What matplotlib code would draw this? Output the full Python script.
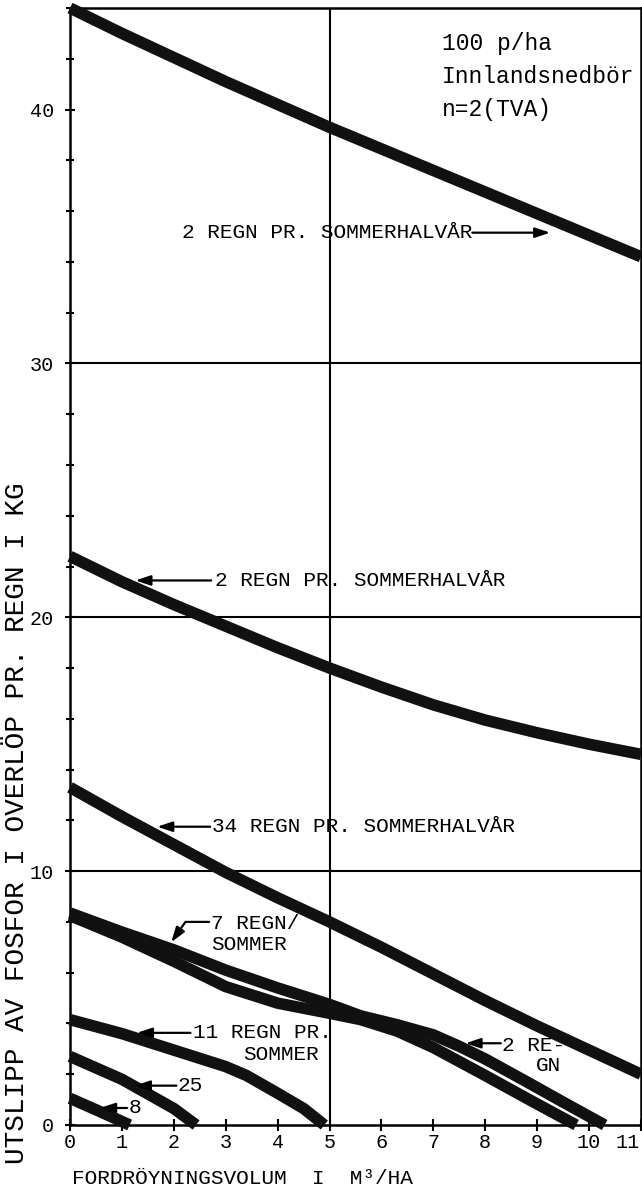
import matplotlib
matplotlib.use("Agg")
import matplotlib.pyplot as plt
from matplotlib.ticker import MultipleLocator

FONT = ["Liberation Mono", "DejaVu Sans Mono"]
plt.rcParams['font.family'] = FONT

# ---- data ----
x_top = [0, 1, 2, 3, 4, 5, 6, 7, 8, 9, 10, 11]
y_top = [44.0, 43.0, 42.05, 41.1, 40.2, 39.3, 38.45, 37.6, 36.75, 35.9, 35.05, 34.2]

x_mid = [0, 1, 2, 3, 4, 5, 6, 7, 8, 9, 10, 11]
y_mid = [22.4, 21.4, 20.5, 19.65, 18.8, 18.0, 17.25, 16.55, 15.95, 15.45, 15.0, 14.6]

x_34 = [0, 1, 2, 3, 4, 5, 6, 7, 8, 9, 10, 11]
y_34 = [13.3, 12.15, 11.05, 9.95, 8.95, 8.0, 7.0, 5.95, 4.9, 3.9, 2.95, 2.0]

x_7a = [0, 1, 2, 3, 4, 5, 5.6, 6.3, 7, 7.5, 8, 8.8, 9.5, 10.3]
y_7a = [8.35, 7.6, 6.9, 6.1, 5.4, 4.75, 4.3, 3.95, 3.55, 3.1, 2.6, 1.7, 0.9, 0.0]

x_7b = [0, 1, 2, 3, 4, 5, 5.6, 6.3, 7, 7.5, 8, 8.8, 9.75]
y_7b = [8.25, 7.4, 6.45, 5.45, 4.8, 4.4, 4.15, 3.7, 3.05, 2.5, 1.95, 1.05, 0.0]

x_11 = [0, 1, 2, 3, 3.4, 4, 4.5, 4.9]
y_11 = [4.15, 3.6, 2.95, 2.3, 1.95, 1.25, 0.65, 0.0]

x_25 = [0, 1, 2, 2.43]
y_25 = [2.7, 1.8, 0.65, 0.0]

x_8 = [0, 0.5, 1.15]
y_8 = [1.05, 0.6, 0.0]

x_ticks = list(range(0, 12))
x_ticklabels = [str(v) for v in x_ticks[:-1]] + [""]
last_xlabel = str(x_ticks[-1])
y_ticks = [0, 10, 20, 30, 40]
y_ticklabels = [str(v) for v in y_ticks]

fig = plt.figure(figsize=(6.42, 11.93), dpi=100)
ax = fig.add_axes([70/642, 1-1125/1193, 571/642, (1125-8)/1193])
ax.set_xlim(0, 11)
ax.set_ylim(0, 44)

INK = '#111111'
LW = 8.3
for xs, ys in [(x_top, y_top), (x_mid, y_mid), (x_34, y_34), (x_7a, y_7a),
               (x_7b, y_7b), (x_11, y_11), (x_25, y_25), (x_8, y_8)]:
    ax.plot(xs, ys, color=INK, lw=LW, solid_capstyle='butt',
            solid_joinstyle='round', clip_on=False, zorder=3)

# grid lines
for yv in [10, 20, 30]:
    ax.axhline(yv, color='black', lw=1.5, zorder=1)
ax.axvline(5, color='black', lw=1.5, zorder=1)

for s in ax.spines.values():
    s.set_linewidth(1.8)
    s.set_color('black')

ax.set_xticks(x_ticks)
ax.set_xticklabels(x_ticklabels)
ax.set_yticks(y_ticks)
ax.set_yticklabels(y_ticklabels)
ax.yaxis.set_minor_locator(MultipleLocator(2))
ax.tick_params(axis='both', which='both', direction='inout', width=1.5, color='black')
ax.tick_params(axis='y', which='major', length=7, pad=8, labelsize=14.5)
ax.tick_params(axis='y', which='minor', length=6)
ax.tick_params(axis='x', which='major', length=8, pad=2, labelsize=14.5)
ax.annotate(last_xlabel, xy=(11, 0), xycoords='data', xytext=(-1, -5.5),
            textcoords='offset points', ha='right', va='top', fontsize=14.5,
            annotation_clip=False)

# annotations
TXT = dict(fontsize=15.2, color='black', va='center', ha='left', zorder=4)
AP = dict(arrowstyle='-|>,head_length=0.9,head_width=0.3', color='black', lw=1.6,
          shrinkA=0, shrinkB=0)

def arrow(tip, tail):
    ax.annotate('', xy=tip, xytext=tail, arrowprops=AP, zorder=4)

ax.text(2.15, 35.15, "2 REGN PR. SOMMERHALVÅR", **TXT)
arrow((9.25, 35.15), (7.75, 35.15))

ax.text(2.8, 21.45, "2 REGN PR. SOMMERHALVÅR", **TXT)
arrow((1.26, 21.45), (2.72, 21.45))

ax.text(2.74, 11.75, "34 REGN PR. SOMMERHALVÅR", **TXT)
arrow((1.68, 11.75), (2.7, 11.75))

ax.text(2.72, 7.95, "7 REGN/", **TXT)
ax.text(2.72, 7.1, "SOMMER", **TXT)
ax.annotate('', xy=(1.95, 7.2), xytext=(2.68, 8.0),
            arrowprops=dict(AP, connectionstyle='angle,angleA=0,angleB=55,rad=0'),
            zorder=4)

ax.text(2.36, 3.63, "11 REGN PR.", **TXT)
ax.text(3.33, 2.76, "SOMMER", **TXT)
arrow((1.29, 3.63), (2.32, 3.63))

ax.text(2.08, 1.55, "25", **TXT)
arrow((1.25, 1.55), (2.05, 1.55))

ax.text(1.12, 0.67, "8", **TXT)
arrow((0.58, 0.67), (1.1, 0.67))

ax.text(8.33, 3.15, "2 RE-", **TXT)
ax.text(8.97, 2.36, "GN", **TXT)
arrow((7.62, 3.22), (8.3, 3.22))

TR = dict(fontsize=16.6, ha='left', va='center')
ax.text(7.16, 42.6, "100 p/ha", **TR)
ax.text(7.16, 41.3, "Innlandsnedbör", **TR)
ax.text(7.16, 40.0, "n=2(TVA)", **TR)

fig.text(242/642, 1-1178/1193, "FORDRÖYNINGSVOLUM  I  M³/HA", fontsize=15.2,
         ha='center', va='center')
fig.text(17/642, 1-823/1193, "UTSLIPP AV FOSFOR I OVERLÖP PR. REGN I KG",
         fontsize=20, rotation=90, ha='center', va='center')

fig.savefig("out.png", dpi=100)
